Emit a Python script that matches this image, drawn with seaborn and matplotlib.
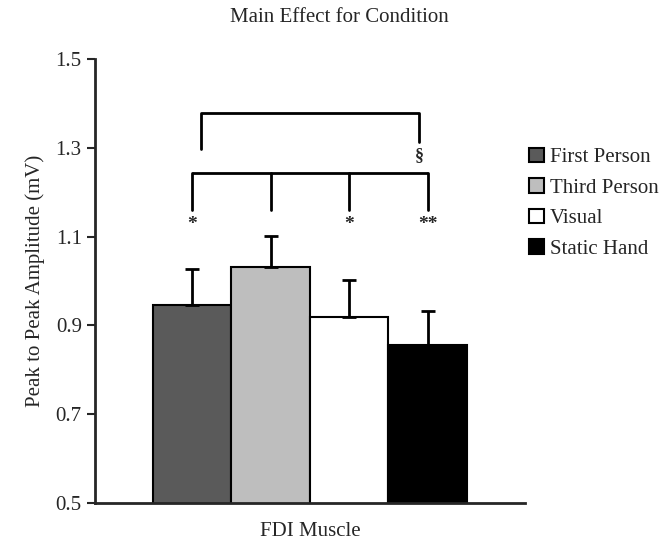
import numpy as np
import pandas as pd
import matplotlib
matplotlib.use("Agg")
import matplotlib.pyplot as plt
import seaborn as sns

# values
conditions = ["First Person", "Third Person", "Visual", "Static Hand"]
means = [0.947, 1.032, 0.920, 0.856]
sems = [0.080, 0.070, 0.082, 0.076]
colors = ["#5a5a5a", "#bebebe", "#ffffff", "#000000"]
muscle = "FDI Muscle"
stars = ["*", "", "*", "**"]

sns.set_style("ticks")
plt.rcParams['font.family'] = ['Liberation Serif', 'DejaVu Serif']
plt.rcParams['font.size'] = 15

df = pd.DataFrame({"muscle": [muscle] * len(conditions),
                   "condition": conditions,
                   "amp": means})

fig = plt.figure(figsize=(6.66, 5.43), dpi=100)
ax = fig.add_axes([0.1426, 0.0737, 0.6456, 0.8176])

sns.barplot(data=df, x="muscle", y="amp", hue="condition",
            hue_order=conditions, palette=colors, edgecolor="black",
            linewidth=1.5, errorbar=None, width=0.8, legend=False, ax=ax)

bars = [c[0] for c in ax.containers]
xs = [b.get_x() + b.get_width() / 2 for b in bars]

# upper error bars only
ax.errorbar(xs, means, yerr=[np.zeros(len(sems)), sems], fmt="none",
            ecolor="black", elinewidth=2, capsize=5, capthick=2)

# lower bracket: third person vs the rest
yb, yl = 1.243, 1.16
ax.plot([xs[0], xs[-1]], [yb, yb], color="black", lw=2, solid_capstyle="butt")
for x, s in zip(xs, stars):
    ax.plot([x, x], [yl, yb], color="black", lw=2)
    if s:
        ax.text(x, 1.128, s, ha="center", va="center", fontsize=14,
                fontweight="bold")

# upper bracket
ax.plot([-0.278, -0.278, 0.278, 0.278], [1.297, 1.378, 1.378, 1.313],
        color="black", lw=2)
ax.text(0.278, 1.282, "§", ha="center", va="center", fontsize=13,
        fontweight="bold")

ax.set_ylim(0.5, 1.5)
ax.set_yticks(np.arange(0.5, 1.51, 0.2))
ax.set_yticklabels([f"{v:.1f}" for v in np.arange(0.5, 1.51, 0.2)])
ax.set_xlim(-0.548, 0.548)
ax.tick_params(axis="x", length=0, pad=14)
ax.tick_params(axis="y", length=6, width=1.5, direction="out")
ax.set_xlabel("")
ax.set_ylabel("Peak to Peak Amplitude (mV)", labelpad=8)
sns.despine(ax=ax)
for sp in ["left", "bottom"]:
    ax.spines[sp].set_linewidth(2)

fig.text(0.51, 0.967, "Main Effect for Condition", ha="center", va="center",
         fontsize=15)

fig.legend(handles=bars, labels=conditions, loc="upper left",
           bbox_to_anchor=(0.782, 0.743), frameon=False, fontsize=15,
           handlelength=0.7, handleheight=0.7, handletextpad=0.3,
           labelspacing=0.52, borderaxespad=0)

fig.savefig("out.png", dpi=100)
